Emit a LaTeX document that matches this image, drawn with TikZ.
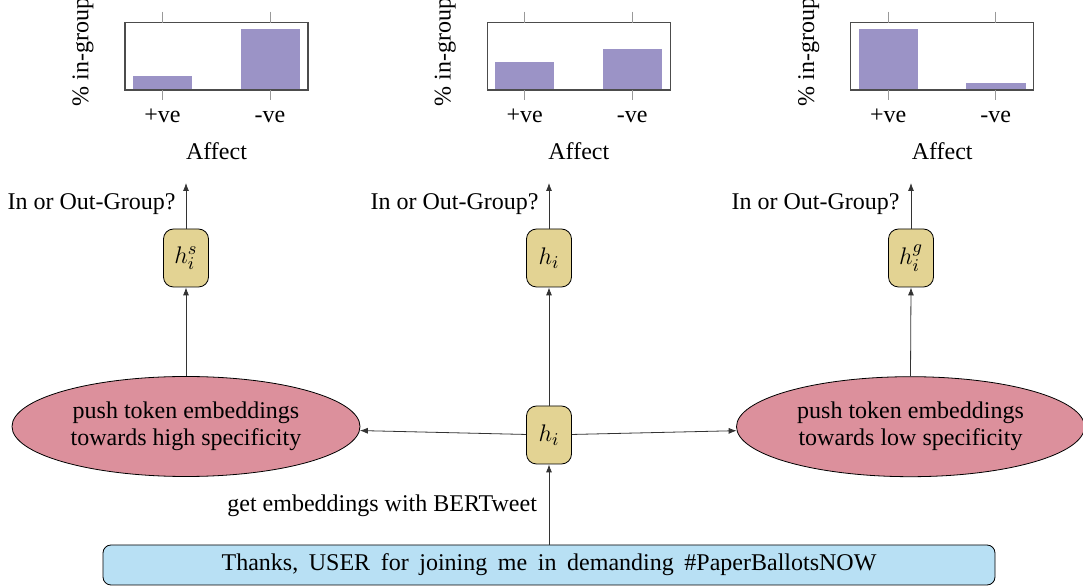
\documentclass[tikz,border=0pt]{standalone}
\usepackage{fontspec}
\setmainfont{Liberation Serif}
\usetikzlibrary{shapes.geometric,arrows.meta}
\definecolor{barc}{HTML}{9B93C6}
\definecolor{ellc}{HTML}{DC909C}
\definecolor{hcol}{HTML}{E3D393}
\definecolor{tcol}{HTML}{B8E0F4}
\begin{document}
\begin{tikzpicture}[x=0.5pt,y=-0.5pt,font=\fontsize{12}{13.5}\selectfont,
  hbox/.style={draw, fill=hcol, rounded corners=5pt, minimum width=22.5pt, minimum height=29pt, inner sep=0pt, font=\fontsize{13}{15}\selectfont},
  ell/.style={ellipse, draw, fill=ellc, minimum width=174pt, minimum height=50pt, inner sep=0pt, align=center},
  arr/.style={draw=black!80, -{Latex[length=4pt,width=3pt]}},
  tweet/.style={draw, fill=tcol, rounded corners=4pt, minimum width=446pt, minimum height=20pt, inner sep=0pt},
  frame/.style={draw=black!70, line width=0.6pt},
  tickl/.style={draw=black!40, line width=0.4pt},
  lbl/.style={inner sep=0pt}]
\useasboundingbox (0,0) rectangle (1083,587);
% bar charts
\foreach \ox/\a/\b [count=\i] in {0/14/61, 362.3/27.7/40.7, 725.7/61/7.3}{
  \fill[barc] ({133+\ox},90) rectangle ({192+\ox},{90-\a});
  \fill[barc] ({240.7+\ox},90) rectangle ({300+\ox},{90-\b});
  \draw[frame] ({125+\ox},22.7) rectangle ({308+\ox},90);
  \draw[tickl] ({162.5+\ox},11.7) -- ({162.5+\ox},22.7);
  \draw[tickl] ({162.5+\ox},90) -- ({162.5+\ox},100);
  \draw[tickl] ({270+\ox},11.7) -- ({270+\ox},22.7);
  \draw[tickl] ({270+\ox},90) -- ({270+\ox},100);
  \node[anchor=base] (pv\i) at ({162.5+\ox},123) {+ve};
  \node[anchor=base] (nv\i) at ({270+\ox},123) {-ve};
  \node[anchor=base] (af\i) at ({216.5+\ox},159.3) {Affect};
  \node[rotate=90] (yl\i) at ({83+\ox},52) {\% in-group};
}
% main nodes
\node[hbox] (hs) at (186,258) {$h_i^s$};
\node[hbox] (hm) at (549,258) {$h_i$};
\node[hbox] (hg) at (911,258) {$h_i^g$};
\node[ell] (el) at (186,426.5) {push token embeddings\\towards high specificity};
\node[ell] (er) at (910.5,426.7) {push token embeddings\\towards low specificity};
\node[hbox] (hc) at (549,435) {$h_i$};
\node[tweet] (tw) at (549,565) {\spaceskip=5.3pt plus 1pt minus 1pt Thanks, USER for joining me in demanding \#PaperBallotsNOW};
% arrow ends
\coordinate (ts) at (186,183);
\coordinate (tm) at (549,183);
\coordinate (tg) at (911,183);
\draw[arr] (hs) -- (ts);
\draw[arr] (hm) -- (tm);
\draw[arr] (hg) -- (tg);
\node[lbl, anchor=base east] (q1) at (176,210) {In or Out-Group?};
\node[lbl, anchor=base east] (q2) at (539,210) {In or Out-Group?};
\node[lbl, anchor=base east] (q3) at (900,210) {In or Out-Group?};
\draw[arr] (el.north) -- (hs.south);
\draw[arr] (hc.north) -- (hm.south);
\draw[arr] (er.north) -- (hg.south);
\draw[arr] (hc) -- (el);
\draw[arr] (hc) -- (er);
\draw[arr] (tw.north) -- (hc.south);
\node[lbl, anchor=base east] (ge) at (537.3,511.7) {get embeddings with BERTweet};
\end{tikzpicture}
\end{document}
